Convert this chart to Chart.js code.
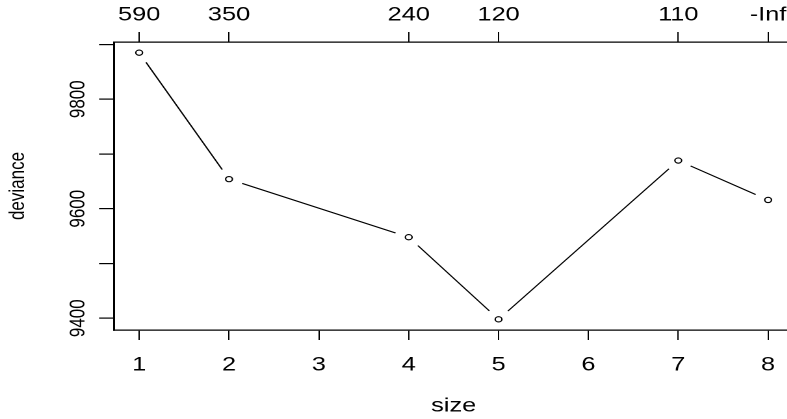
<!DOCTYPE html>
<html>
<head>
<meta charset="utf-8">
<script src="https://cdn.jsdelivr.net/npm/chart.js@4/dist/chart.umd.min.js"></script>
<style>
  html, body { margin: 0; padding: 0; background: #fff; overflow: hidden; }
  /* the reference is stretched sideways, so draw narrow and stretch */
  #wrap { width: 612px; height: 419px; transform: scaleX(1.3); transform-origin: 0 0; }
  #devChart { display: block; }
</style>
</head>
<body>
<div id="wrap"><canvas id="devChart" width="612" height="419"></canvas></div>
<script>
// data
const sizes = [1, 2, 4, 5, 7, 8];
const deviance = [9885, 9654, 9548, 9398, 9688, 9616];
const kLabels = ['590', '350', '240', '120', '110', '-Inf'];
const sizeTicks = [1, 2, 3, 4, 5, 6, 7, 8];
const devTicks = [9400, 9500, 9600, 9700, 9800, 9900];
const devLabeled = [9400, 9600, 9800];

const points = sizes.map((s, i) => ({ x: s, y: deviance[i] }));

const FONT = 'Liberation Sans, Arial, Helvetica, sans-serif';
const X_MIN = 0.72, X_MAX = 8.28;

// keep the plot box fixed, ignore label overflow padding
function fixBox(s, w, h) {
    if (w !== null) s.width = w;
    if (h !== null) s.height = h;
    s.paddingLeft = 0;
    s.paddingRight = 0;
    s.paddingTop = 0;
    s.paddingBottom = 0;
}

const config = {
    type: 'scatter',
    data: {
        datasets: [{
            // open circles on top
            data: points,
            showLine: false,
            order: 0,
            pointStyle: 'circle',
            pointRadius: 2.6,
            pointBorderWidth: 1.1,
            pointBorderColor: '#000',
            pointBackgroundColor: 'rgba(0,0,0,0)'
        }, {
            // line with gaps round the points (type = "b")
            data: points,
            showLine: true,
            order: 1,
            borderColor: '#000',
            borderWidth: 1.1,
            pointRadius: 11,
            pointBorderWidth: 0,
            pointBackgroundColor: '#fff',
            pointBorderColor: '#fff'
        }]
    },
    options: {
        responsive: false,
        animation: false,
        devicePixelRatio: 2,
        layout: { autoPadding: false, padding: { left: 0, right: 1.8, top: 0, bottom: 0 } },
        plugins: {
            legend: { display: false },
            tooltip: { enabled: false }
        },
        scales: {
            x: {
                type: 'linear',
                position: 'bottom',
                min: X_MIN,
                max: X_MAX,
                afterBuildTicks: s => { s.ticks = sizeTicks.map(v => ({ value: v })); },
                afterFit: s => fixBox(s, null, 89),
                grid: { drawOnChartArea: false, drawTicks: true, tickLength: 10, color: '#000', lineWidth: 1 },
                border: { display: true, color: '#000', width: 1.3, z: 1 },
                ticks: {
                    color: '#000',
                    font: { family: FONT, size: 19.5 },
                    padding: 13.5,
                    maxRotation: 0,
                    autoSkip: false,
                    callback: v => String(v)
                },
                title: {
                    display: true,
                    text: 'size',
                    color: '#000',
                    font: { family: FONT, size: 19.5 },
                    padding: { top: 0, bottom: 1.1 }
                }
            },
            x2: {
                type: 'linear',
                position: 'top',
                min: X_MIN,
                max: X_MAX,
                afterBuildTicks: s => { s.ticks = sizes.map(v => ({ value: v })); },
                afterFit: s => fixBox(s, null, 42),
                grid: { drawOnChartArea: false, drawTicks: true, tickLength: 10, color: '#000', lineWidth: 1 },
                border: { display: true, color: '#000', width: 1.3, z: 1 },
                ticks: {
                    color: '#000',
                    font: { family: FONT, size: 19.5 },
                    padding: 5.1,
                    maxRotation: 0,
                    autoSkip: false,
                    callback: (v, i) => kLabels[i]
                }
            },
            y: {
                type: 'linear',
                position: 'left',
                min: 9378.5,
                max: 9904.5,
                afterBuildTicks: s => { s.ticks = devTicks.map(v => ({ value: v })); },
                afterFit: s => fixBox(s, 87.7, null),
                grid: { drawOnChartArea: false, drawTicks: true, tickLength: 11.5, color: '#000', lineWidth: 1.2 },
                border: { display: true, color: '#000', width: 1.5, z: 1 },
                ticks: {
                    color: '#000',
                    font: { family: FONT, size: 17 },
                    padding: -3,
                    minRotation: 90,
                    maxRotation: 90,
                    crossAlign: 'center',
                    autoSkip: false,
                    callback: v => devLabeled.includes(v) ? String(v) : ''
                },
                title: {
                    display: true,
                    text: 'deviance',
                    color: '#000',
                    font: { family: FONT, size: 17 },
                    padding: { top: 3.6, bottom: 0 }
                }
            }
        }
    }
};

const devChart = new Chart(document.getElementById('devChart'), config);
</script>
</body>
</html>
